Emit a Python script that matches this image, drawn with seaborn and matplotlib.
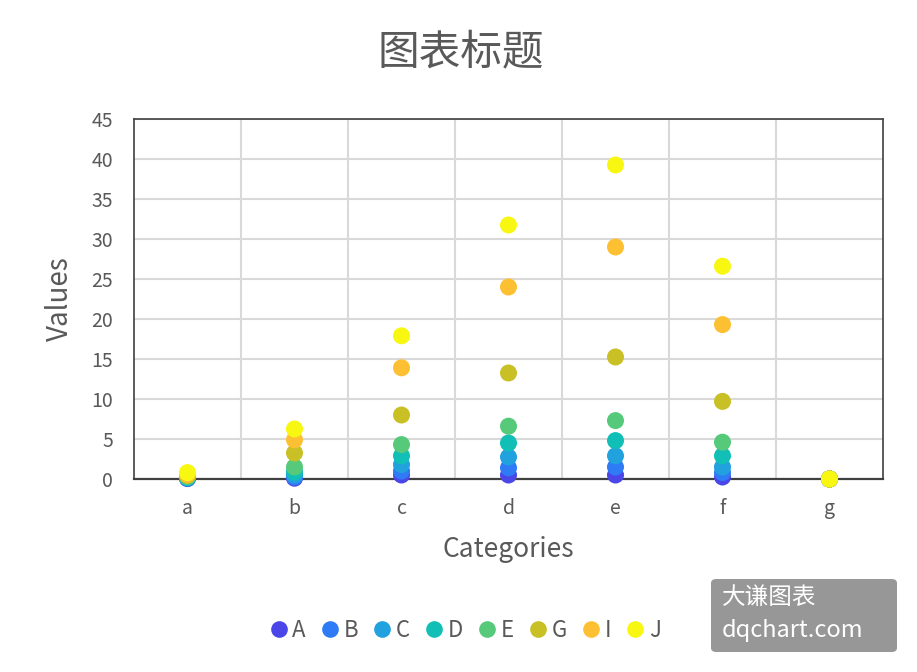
import matplotlib
matplotlib.use("Agg")
import matplotlib.pyplot as plt
import seaborn as sns
import pandas as pd
from matplotlib.patches import FancyBboxPatch

categories = ["a", "b", "c", "d", "e", "f", "g"]
series_names = ["A", "B", "C", "D", "E", "G", "I", "J"]
A = [0.05, 0.1, 0.5, 0.5, 0.5, 0.25, 0.0]
B = [0.1, 0.25, 1.0, 1.4, 1.5, 0.8, 0.0]
C = [0.15, 0.5, 1.8, 2.75, 2.9, 1.5, 0.0]
D = [0.2, 0.9, 2.9, 4.5, 4.8, 2.9, 0.0]
E = [0.3, 1.5, 4.3, 6.6, 7.3, 4.6, 0.0]
G = [0.45, 3.25, 8.0, 13.25, 15.25, 9.7, 0.0]
I = [0.6, 4.9, 13.9, 24.0, 29.0, 19.3, 0.0]
J = [0.8, 6.25, 17.9, 31.75, 39.25, 26.6, 0.0]
series_values = [A, B, C, D, E, G, I, J]
colors = ["#4a46e8", "#2f7bf6", "#22a1df", "#12bfb7", "#56c97a", "#c9c026", "#fdc033", "#f8f712"]
yticks = [0, 5, 10, 15, 20, 25, 30, 35, 40, 45]

rows = []
for name, vals in zip(series_names, series_values):
    for cat, v in zip(categories, vals):
        rows.append({"Category": cat, "Value": v, "Series": name})
df = pd.DataFrame(rows)
df["x"] = df["Category"].map({c: i for i, c in enumerate(categories)})

sns.set_theme(style="white")
plt.rcParams["font.family"] = ["Noto Sans CJK SC", "DejaVu Sans"]
plt.rcParams["font.weight"] = "light"

fig = plt.figure(figsize=(9.17, 6.72), dpi=100)
ax = fig.add_axes([134/917, 1-479/672, (883-134)/917, (479-119)/672])

sns.scatterplot(data=df, x="x", y="Value", hue="Series", hue_order=series_names,
                palette=colors, s=150, linewidth=0, alpha=1, ax=ax, legend=False,
                zorder=3, clip_on=False)

ax.set_xlim(-0.5, len(categories) - 0.5)
ax.set_ylim(0, 45)
ax.set_yticks(yticks)
ax.set_xticks(range(len(categories)))
ax.set_xticklabels(categories)
ax.set_xticks([i + 0.5 for i in range(len(categories) - 1)], minor=True)
ax.grid(True, which="minor", axis="x", color="#d9d9d9", linewidth=1.5)
ax.grid(True, which="major", axis="y", color="#d9d9d9", linewidth=1.5)
ax.grid(False, which="major", axis="x")
ax.tick_params(axis="y", which="both", length=0, labelsize=14, labelcolor="#595959", pad=15)
ax.tick_params(axis="x", which="both", length=0, labelsize=14, labelcolor="#595959", pad=14)
for side in ["top", "right", "left"]:
    ax.spines[side].set_color("#404040")
    ax.spines[side].set_linewidth(1.2)
ax.spines["bottom"].set_color("#404040")
ax.spines["bottom"].set_linewidth(1.6)
ax.set_axisbelow(True)

ax.set_xlabel("Categories", fontsize=19, color="#595959", labelpad=12)
ax.set_ylabel("Values", fontsize=20, color="#595959", labelpad=12)
fig.text(0.502, 0.922, "图表标题", ha="center", va="center", fontsize=30, color="#595959")

handles = [plt.Line2D([0], [0], marker="o", linestyle="", markersize=12,
                      markerfacecolor=c, markeredgewidth=0) for c in colors]
fig.legend(handles, series_names, loc="center", bbox_to_anchor=(0.505, 0.062), ncol=8,
           frameon=False, fontsize=16, handletextpad=0.0, columnspacing=0.5,
           handlelength=1.2, labelcolor="#595959")

box = FancyBboxPatch((711/917, 1-652/672), (897-711)/917, (652-579)/672,
                     boxstyle="round,pad=0,rounding_size=0.006", transform=fig.transFigure,
                     facecolor="#8c8c8c", edgecolor="none", alpha=0.9)
fig.patches.append(box)
fig.text(722/917, 1-597/672, "大谦图表", ha="left", va="center", fontsize=17, color="white")
fig.text(722/917, 1-630/672, "dqchart.com", ha="left", va="center", fontsize=17, color="white")

fig.savefig("out.png", dpi=100)
